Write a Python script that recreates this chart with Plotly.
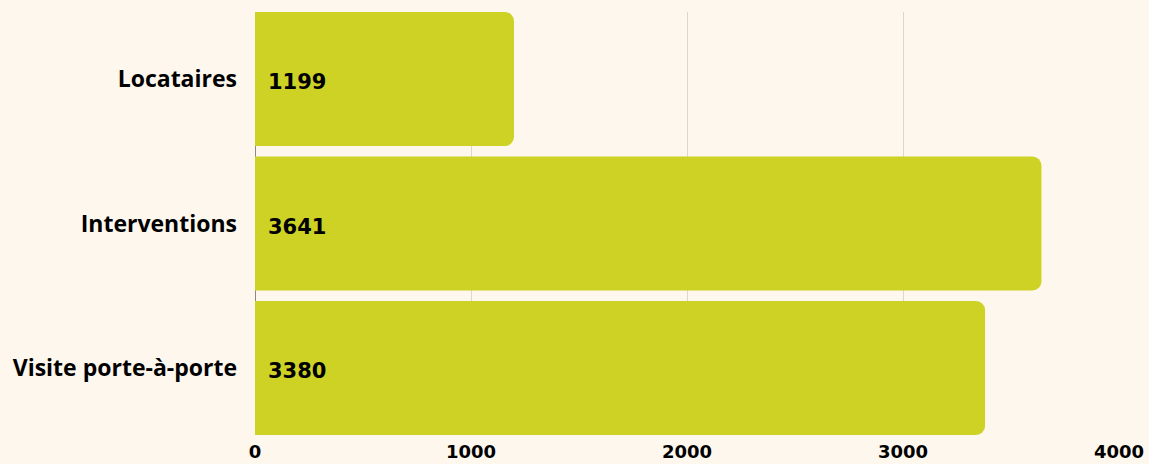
import plotly.graph_objects as go

categories = ["Locataires", "Interventions", "Visite porte-à-porte"]
values = [1199, 3641, 3380]
x_ticks = [0, 1000, 2000, 3000, 4000]

BG = "#FEF7ED"
BAR = "#CDD225"
LABEL_FONT = "Open Sans"
NUM_FONT = "DejaVu Sans"

fig = go.Figure()
fig.add_trace(go.Bar(
    x=values,
    y=categories,
    orientation="h",
    marker=dict(color=BAR, line=dict(width=0)),
    width=0.927,
    hoverinfo="skip",
))

for c, v in zip(categories, values):
    fig.add_annotation(
        x=0, y=c, text=f"<b>{v}</b>", showarrow=False,
        xanchor="left", yanchor="middle", xshift=11, yshift=-3,
        font=dict(family=NUM_FONT, size=21, color="#000000"),
    )

fig.update_layout(
    width=1149, height=464,
    paper_bgcolor=BG, plot_bgcolor=BG,
    margin=dict(l=255, r=30, t=12, b=29, autoexpand=False),
    barcornerradius=9,
    showlegend=False,
    font=dict(family=LABEL_FONT, color="#000000"),
    xaxis=dict(
        range=[0, 4000],
        tickvals=x_ticks,
        ticktext=[f"<b>{t}</b>" for t in x_ticks],
        showgrid=True, gridcolor="#DCD6CD", gridwidth=1,
        zeroline=True, zerolinecolor="#8A8A8A", zerolinewidth=1,
        showline=False, ticks="",
        tickfont=dict(family=NUM_FONT, size=18, color="#000000"),
        ticklabelstandoff=4,
        automargin=False,
        fixedrange=True,
    ),
    yaxis=dict(
        type="category",
        categoryorder="array", categoryarray=categories,
        range=[2.4637, -0.4637],
        showgrid=False, zeroline=False, showline=False, ticks="",
        tickvals=categories,
        ticktext=[f"<b>{c}</b>" for c in categories],
        tickfont=dict(family=LABEL_FONT, size=23, color="#000000"),
        ticklabelstandoff=17,
        automargin=False,
        fixedrange=True,
    ),
)

fig.write_html(
    "out.html",
    config={"displayModeBar": False},
    post_script="document.body.style.margin='0';document.body.style.overflow='hidden';",
)
